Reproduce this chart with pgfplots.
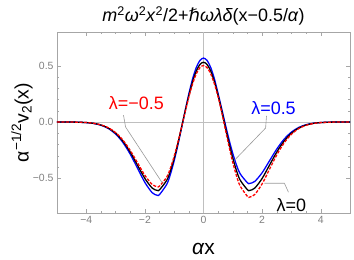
\documentclass[border=0pt]{standalone}
\usepackage{pgfplots}
\pgfplotsset{compat=1.18}
\usepackage{fontspec}
\setmainfont{Liberation Sans}
\newfontfamily\dejavu{DejaVu Sans}
\begin{document}
\begin{tikzpicture}
\begin{axis}[
  scale only axis, width=293bp, height=181bp,
  xmin=-5, xmax=5, ymin=-0.81, ymax=0.80,
  axis line style={black!35},
  tick style={black!35},
  xtick={-4,-2,0,2,4}, ytick={-0.5,0,0.5},
  xticklabels={−4,−2,0,2,4}, yticklabels={−0.5,0.0,0.5},
  minor x tick num=3, minor y tick num=4,
  tick align=inside,
  major tick length=4bp, minor tick length=2bp,
  ticklabel style={font=\fontsize{10.5}{12}\selectfont, text=black!50},
  title={\textit{m}\textsuperscript{2}\textit{ω}\textsuperscript{2}\textit{x}\textsuperscript{2}/2+{\dejavu\itshape ℏ}\textit{ωλδ}(x−0.5/\textit{α})},
  title style={font=\fontsize{18}{20}\selectfont, at={(axis description cs:0.5,1)}, anchor=south, yshift=-1.5bp, inner sep=2bp},
  xlabel={\textit{α}x},
  xlabel style={font=\fontsize{21}{24}\selectfont, at={(axis description cs:0.5,-0.2)}, anchor=center},
  ylabel={α\textsuperscript{−1/2}v\textsubscript{2}(x)},
  ylabel style={font=\fontsize{19.5}{22}\selectfont, at={(axis description cs:-0.12,0.5)}, anchor=center},
  clip=true,
]
\addplot[black!25, line width=0.7pt, forget plot] coordinates {(0,-0.81) (0,0.80)};
\addplot[black!25, line width=0.7pt, forget plot] coordinates {(-5,0) (5,0)};
% lambda = 0.5 (blue)
\addplot[blue, line width=1.3pt, smooth] coordinates {
(-5,0) (-4.5,-0.0009) (-4,-0.0059) (-3.75,-0.0136) (-3.5,-0.0292) (-3.25,-0.0582) (-3,-0.1073) (-2.75,-0.1830) (-2.5,-0.2871) (-2.25,-0.4125) (-2,-0.5382) (-1.75,-0.6298) (-1.58,-0.652) (-1.5,-0.6456) (-1.25,-0.5528) (-1.125,-0.4621) (-1,-0.3446) (-0.875,-0.2059) (-0.75,-0.0536) (-0.625,0.1023) (-0.5,0.2507) (-0.375,0.3806) (-0.25,0.4818) (-0.125,0.5461) (0,0.5682) (0.125,0.5461) (0.25,0.4818) (0.375,0.3806) (0.5,0.2507) (0.625,0.1135) (0.75,-0.0262) (0.875,-0.1601) (1,-0.2810) (1.125,-0.3826) (1.25,-0.4607) (1.5,-0.5411) (1.58,-0.5466) (1.75,-0.5288) (2,-0.4523) (2.25,-0.3470) (2.5,-0.2415) (2.75,-0.1539) (3,-0.0903) (3.25,-0.0490) (3.5,-0.0246) (3.75,-0.0114) (4,-0.0050) (4.5,-0.0007) (5,0)};
% lambda = 0 (black)
\addplot[black, line width=1.3pt, smooth] coordinates {
(-5,0) (-4.5,-0.0008) (-4,-0.0055) (-3.75,-0.0127) (-3.5,-0.0273) (-3.25,-0.0544) (-3,-0.1003) (-2.75,-0.1710) (-2.5,-0.2683) (-2.25,-0.3855) (-2,-0.5030) (-1.75,-0.5886) (-1.58,-0.609) (-1.5,-0.6034) (-1.25,-0.5166) (-1.125,-0.4319) (-1,-0.3221) (-0.875,-0.1924) (-0.75,-0.0501) (-0.625,0.0956) (-0.5,0.2343) (-0.375,0.3557) (-0.25,0.4503) (-0.125,0.5104) (0,0.531) (0.125,0.5104) (0.25,0.4503) (0.375,0.3557) (0.5,0.2343) (0.625,0.0956) (0.75,-0.0501) (0.875,-0.1924) (1,-0.3221) (1.125,-0.4319) (1.25,-0.5166) (1.5,-0.6034) (1.58,-0.609) (1.75,-0.5886) (2,-0.5030) (2.25,-0.3855) (2.5,-0.2683) (2.75,-0.1710) (3,-0.1003) (3.25,-0.0544) (3.5,-0.0273) (3.75,-0.0127) (4,-0.0055) (4.5,-0.0008) (5,0)};
% lambda = -0.5 (red dashed)
\addplot[red, line width=1.3pt, smooth, dash pattern=on 3bp off 1.5bp] coordinates {
(-5,0) (-4.5,-0.0008) (-4,-0.0052) (-3.75,-0.0120) (-3.5,-0.0258) (-3.25,-0.0514) (-3,-0.0948) (-2.75,-0.1616) (-2.5,-0.2535) (-2.25,-0.3643) (-2,-0.4753) (-1.75,-0.5562) (-1.58,-0.5755) (-1.5,-0.5702) (-1.25,-0.4882) (-1.125,-0.4081) (-1,-0.3044) (-0.875,-0.1818) (-0.75,-0.0473) (-0.625,0.0903) (-0.5,0.2214) (-0.375,0.3362) (-0.25,0.4255) (-0.125,0.4823) (0,0.5018) (0.125,0.4823) (0.25,0.4255) (0.375,0.3362) (0.5,0.2214) (0.625,0.0806) (0.75,-0.0714) (0.875,-0.2221) (1,-0.3605) (1.125,-0.4783) (1.25,-0.5694) (1.5,-0.6624) (1.58,-0.6681) (1.75,-0.6453) (2,-0.5512) (2.25,-0.4221) (2.5,-0.2938) (2.75,-0.1872) (3,-0.1098) (3.25,-0.0596) (3.5,-0.0299) (3.75,-0.0139) (4,-0.0060) (4.5,-0.0009) (5,0)};
% annotations
\draw[black!40, line width=0.6pt] (axis cs:-2.73,0.06) -- (axis cs:-2.66,-0.045) -- (axis cs:-1.40,-0.545);
\draw[black!40, line width=0.6pt] (axis cs:2.15,0.054) -- (axis cs:2.12,-0.054) -- (axis cs:1.06,-0.34);
\draw[black!40, line width=0.6pt] (axis cs:2.08,-0.545) -- (axis cs:2.76,-0.545) -- (axis cs:2.90,-0.625);
\node[red, font=\fontsize{18}{20}\selectfont] at (axis cs:-2.29,0.17) {λ=−0.5};
\node[blue, font=\fontsize{18}{20}\selectfont] at (axis cs:2.39,0.125) {λ=0.5};
\node[black, font=\fontsize{18}{20}\selectfont] at (axis cs:3.0,-0.74) {λ=0};
\end{axis}
\pgfresetboundingbox
\path[use as bounding box] (-57bp,-47bp) rectangle (297bp,213bp);
\end{tikzpicture}
\end{document}
